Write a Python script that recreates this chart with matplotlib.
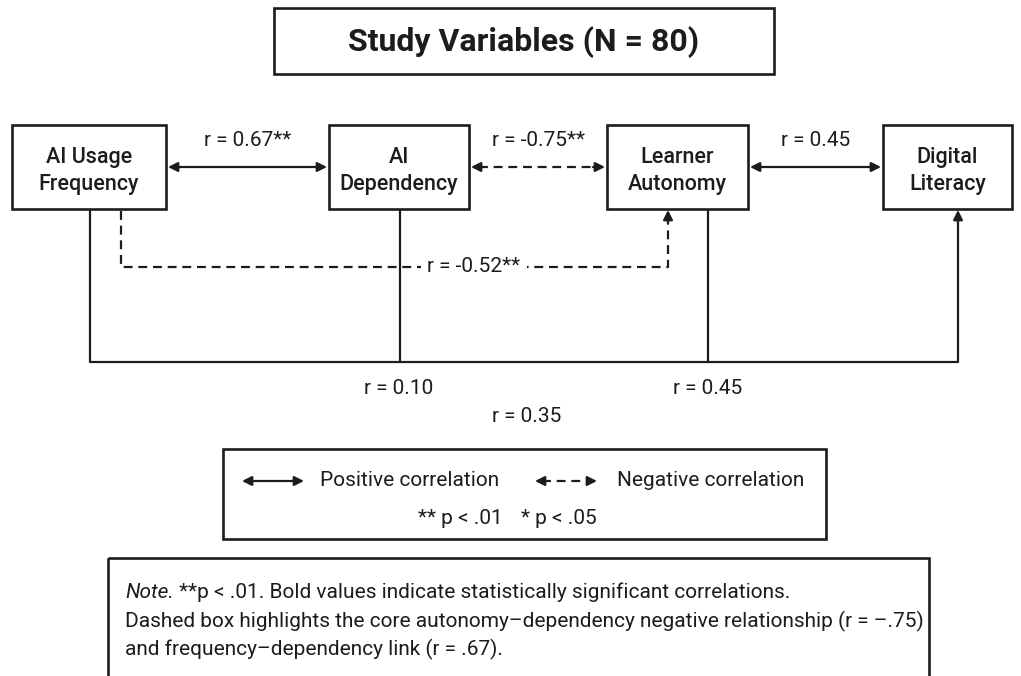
import matplotlib
matplotlib.use("Agg")
import matplotlib.pyplot as plt
from matplotlib.patches import Rectangle

plt.rcParams['font.family'] = ['Roboto', 'DejaVu Sans']

# data
title = "Study Variables (N = 80)"
variables = ["AI Usage\nFrequency", "AI\nDependency", "Learner\nAutonomy", "Digital\nLiteracy"]
top_links = ["r = 0.67**", "r = -0.75**", "r = 0.45"]
top_dashed = [False, True, False]
mid_link = "r = -0.52**"
bottom_links = ["r = 0.10", "r = 0.45", "r = 0.35"]
legend_items = ["Positive correlation", "Negative correlation"]
sig_items = ["** p < .01", "* p < .05"]
note_lines = ["**p < .01. Bold values indicate statistically significant correlations.",
              "Dashed box highlights the core autonomy\u2013dependency negative relationship (r = \u2013.75)",
              "and frequency\u2013dependency link (r = .67)."]

# layout (pixel coords)
box_x = [(12, 166), (329, 469), (607, 748), (883, 1012)]
box_top, box_bot = 125, 209
arrow_y = 167
DASH = (0, (4, 2.6))
LW = 1.6
INK = '#1c1c1c'

fig = plt.figure(figsize=(10.21, 6.76), dpi=100)
ax = fig.add_axes([0, 0, 1, 1])
ax.set_xlim(0, 1021)
ax.set_ylim(676, 0)
ax.axis('off')


def box(x0, y0, x1, y1, lw=1.9):
    ax.add_patch(Rectangle((x0, y0), x1 - x0, y1 - y0, fill=False, ec=INK, lw=lw, zorder=3))


def head(x, y, dx, dy):
    # small arrow head pointing to (x, y), coming from direction (dx, dy)
    ax.annotate("", xy=(x, y), xytext=(x + dx, y + dy),
                arrowprops=dict(arrowstyle='-|>', color=INK, lw=LW,
                                mutation_scale=14, shrinkA=0, shrinkB=0))


def line(xs, ys, dashed=False):
    ax.plot(xs, ys, color=INK, lw=LW, linestyle=DASH if dashed else '-',
            solid_capstyle='butt', zorder=2)


# title
box(274, 8, 774, 74)
ax.text(524, 42, title, ha='center', va='center', fontsize=23, fontweight='bold', color=INK)

# variable boxes
for (x0, x1), name in zip(box_x, variables):
    box(x0, box_top, x1, box_bot)
    ax.text((x0 + x1) / 2, (box_top + box_bot) / 2 + 4, name, ha='center', va='center',
            fontsize=15.5, fontweight='medium', linespacing=1.35, color=INK)

# top double arrows between neighbours
for i, (lab, dsh) in enumerate(zip(top_links, top_dashed)):
    xa = box_x[i][1] + 2
    xb = box_x[i + 1][0] - 2
    line([xa + 8, xb - 8], [arrow_y, arrow_y], dashed=dsh)
    head(xa, arrow_y, 12, 0)
    head(xb, arrow_y, -12, 0)
    ax.text((xa + xb) / 2, 140, lab, ha='center', va='center', fontsize=15, color=INK)

# dashed link frequency -> autonomy
line([121, 121, 668, 668], [box_bot + 2, 267, 267, box_bot + 10], dashed=True)
head(668, box_bot + 1, 0, 12)
ax.text(474, 267, mid_link, ha='center', va='center', fontsize=15, color=INK,
        bbox=dict(fc='white', ec='none', pad=5), zorder=4)

# solid bottom bracket
line([90, 90, 958, 958], [box_bot + 1, 362, 362, box_bot + 10])
line([400, 400], [box_bot + 1, 362])
line([708, 708], [box_bot + 1, 362])
head(958, box_bot + 1, 0, 12)
ax.text(399, 388, bottom_links[0], ha='center', va='center', fontsize=15, color=INK)
ax.text(708, 388, bottom_links[1], ha='center', va='center', fontsize=15, color=INK)
ax.text(527, 417, bottom_links[2], ha='center', va='center', fontsize=15, color=INK)

# legend box
box(223, 449, 826, 539)
line([248, 297], [481, 481])
head(242, 481, 10, 0)
head(304, 481, -10, 0)
ax.text(320, 481, legend_items[0], ha='left', va='center', fontsize=15, color=INK)
line([542, 590], [481, 481], dashed=True)
head(535, 481, 10, 0)
head(597, 481, -10, 0)
ax.text(617, 481, legend_items[1], ha='left', va='center', fontsize=15, color=INK)
ax.text(503, 519, sig_items[0], ha='right', va='center', fontsize=15, color=INK)
ax.text(521, 519, sig_items[1], ha='left', va='center', fontsize=15, color=INK)

# note box
box(108, 558, 929, 690)
t1 = ax.text(125, 593, "Note.", ha='left', va='center', fontsize=15, style='italic', color=INK)
ax.annotate(" " + note_lines[0], xy=(1, 0), xycoords=t1, ha='left', va='bottom',
            fontsize=15, color=INK)
ax.text(125, 621, note_lines[1], ha='left', va='center', fontsize=15, color=INK)
ax.text(125, 649, note_lines[2], ha='left', va='center', fontsize=15, color=INK)

fig.savefig("out.png", dpi=100, facecolor='white')
